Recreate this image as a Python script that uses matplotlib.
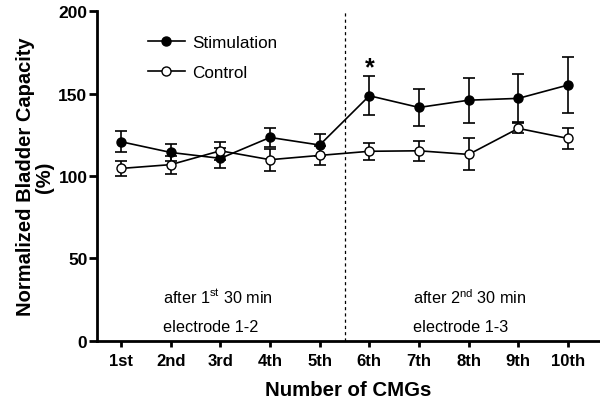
import numpy as np
import matplotlib
matplotlib.use("Agg")
import matplotlib.pyplot as plt

plt.rcParams['font.family'] = ['Liberation Sans', 'DejaVu Sans']

# data
cmg_labels = ['1st', '2nd', '3rd', '4th', '5th', '6th', '7th', '8th', '9th', '10th']
stim_mean = [120.8, 114.3, 110.7, 123.4, 118.8, 148.7, 141.6, 146.0, 147.1, 155.2]
stim_err = [6.5, 5.3, 6.0, 5.8, 6.6, 11.7, 11.3, 13.6, 14.5, 17.0]
ctrl_mean = [104.6, 106.9, 115.3, 109.9, 112.5, 115.0, 115.3, 113.1, 128.9, 122.8]
ctrl_err = [4.5, 5.5, 5.5, 6.7, 6.0, 5.2, 6.0, 9.7, 3.0, 6.3]

x = np.arange(1, len(cmg_labels) + 1)

fig = plt.figure(figsize=(6, 4.06), dpi=100)
ax = fig.add_axes([0.162, 0.158, 0.836, 0.812])

ax.errorbar(x, stim_mean, yerr=stim_err, fmt='none', ecolor='black',
            elinewidth=1.2, capsize=4, capthick=1.2)
ax.errorbar(x, ctrl_mean, yerr=ctrl_err, fmt='none', ecolor='black',
            elinewidth=1.2, capsize=4, capthick=1.2)
ax.plot(x, stim_mean, color='black', marker='o', markersize=6.5, mfc='black',
        lw=1.2, label='Stimulation', zorder=3)
ax.plot(x, ctrl_mean, color='black', marker='o', markersize=6.5, mfc='white',
        mew=1.0, lw=1.2, label='Control', zorder=3)

ax.axvline(5.5, color='black', ls=(0, (2.5, 2.5)), lw=0.9)
ax.text(6, 166, '*', ha='center', va='center', fontsize=18, fontweight='bold')

ax.text(1.85, 27, 'after 1$^{\\mathregular{st}}$ 30 min', fontsize=11.7, va='center')
ax.text(1.85, 9, 'electrode 1-2', fontsize=11.7, va='center')
ax.text(6.87, 27, 'after 2$^{\\mathregular{nd}}$ 30 min', fontsize=11.7, va='center')
ax.text(6.87, 9, 'electrode 1-3', fontsize=11.7, va='center')

ax.set_xlim(0.52, 10.62)
ax.set_ylim(0, 200)
ax.set_xticks(x)
ax.set_xticklabels(cmg_labels, fontweight='bold', fontsize=12)
ax.set_yticks([0, 50, 100, 150, 200])
ax.set_yticklabels(['0', '50', '100', '150', '200'], fontweight='bold', fontsize=12.5)
ax.tick_params(axis='x', width=2, length=4.5, pad=4)
ax.tick_params(axis='y', width=2, length=6, pad=1)
for s in ['top', 'right']:
    ax.spines[s].set_visible(False)
for s in ['left', 'bottom']:
    ax.spines[s].set_linewidth(2)

ax.set_xlabel('Number of CMGs', fontweight='bold', fontsize=14.7, labelpad=9)
ax.set_ylabel('Normalized Bladder Capacity\n(%)', fontweight='bold', fontsize=14.5,
              labelpad=3, linespacing=1.0)

ax.legend(loc='upper left', bbox_to_anchor=(0.07, 0.975), frameon=False, fontsize=12.3,
          handlelength=2.2, handletextpad=0.4, labelspacing=0.9)

fig.savefig('out.png', dpi=100)
